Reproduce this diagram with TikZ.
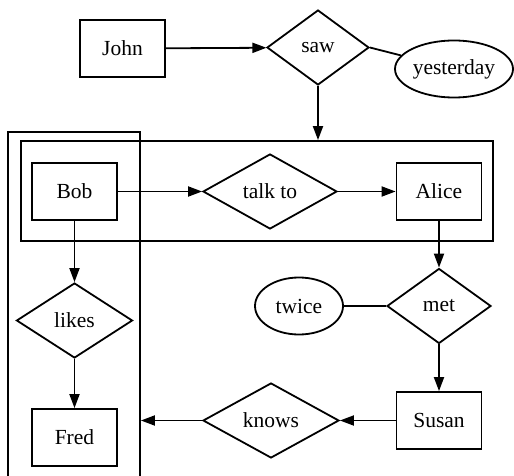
\documentclass[tikz,border=0pt]{standalone}
\usepackage{fontspec}
\setmainfont{Liberation Serif}
\usetikzlibrary{shapes.geometric,arrows.meta}
\begin{document}
\begin{tikzpicture}[x=1pt,y=-1pt,
  every node/.style={font=\rmfamily\fontsize{21.5}{25}\selectfont, line width=1.8pt, inner sep=0pt},
  ent/.style={draw, rectangle, minimum width=85pt, minimum height=57pt},
  rel/.style={draw, diamond, minimum height=75pt},
  attr/.style={draw, ellipse, minimum height=57pt},
  clus/.style={draw, rectangle, line width=1.8pt},
  arr/.style={line width=1.8pt, -{Triangle[length=14pt,width=10pt]}},
  ln/.style={line width=1.8pt}]
\useasboundingbox (0,0) rectangle (514,476);
\clip (0,0) rectangle (514,476);
% clusters
\node[clus, minimum width=472pt, minimum height=100pt] (c1) at (257,191) {};
\node[clus, minimum width=132pt, minimum height=370pt] (c2) at (74,317) {};
% nodes
\node[ent] (john) at (122.5,48.5) {John};
\node[rel, minimum width=102pt] (saw) at (318,47.5) {saw};
\node[attr, minimum width=118pt] (yest) at (454,69) {yesterday};
\node[ent] (bob) at (74.5,191.5) {Bob};
\node[rel, minimum width=134pt] (talk) at (270,191.5) {talk to};
\node[ent] (alice) at (439,191.5) {Alice};
\node[rel, minimum width=116pt] (likes) at (74.5,320.5) {likes};
\node[ent] (fred) at (74.5,437.5) {Fred};
\node[rel, minimum width=104pt] (met) at (439,306) {met};
\node[attr, minimum width=88pt] (twice) at (299,306) {twice};
\node[ent] (susan) at (439,420.5) {Susan};
\node[rel, minimum width=136pt] (knows) at (271,420.5) {knows};
% edges
\draw[arr] (john) -- (saw);
\draw[ln] (saw.east) -- (yest);
\draw[arr] (saw.south) -- (saw.south |- c1.north);
\draw[arr] (bob) -- (talk);
\draw[arr] (talk) -- (alice);
\draw[arr] (bob) -- (likes);
\draw[arr] (likes) -- (fred);
\draw[arr] (alice) -- (met);
\draw[ln] (twice) -- (met);
\draw[arr] (met) -- (susan);
\draw[arr] (susan) -- (knows);
\draw[arr] (knows.west) -- (c2.east |- knows.west);
\end{tikzpicture}
\end{document}
